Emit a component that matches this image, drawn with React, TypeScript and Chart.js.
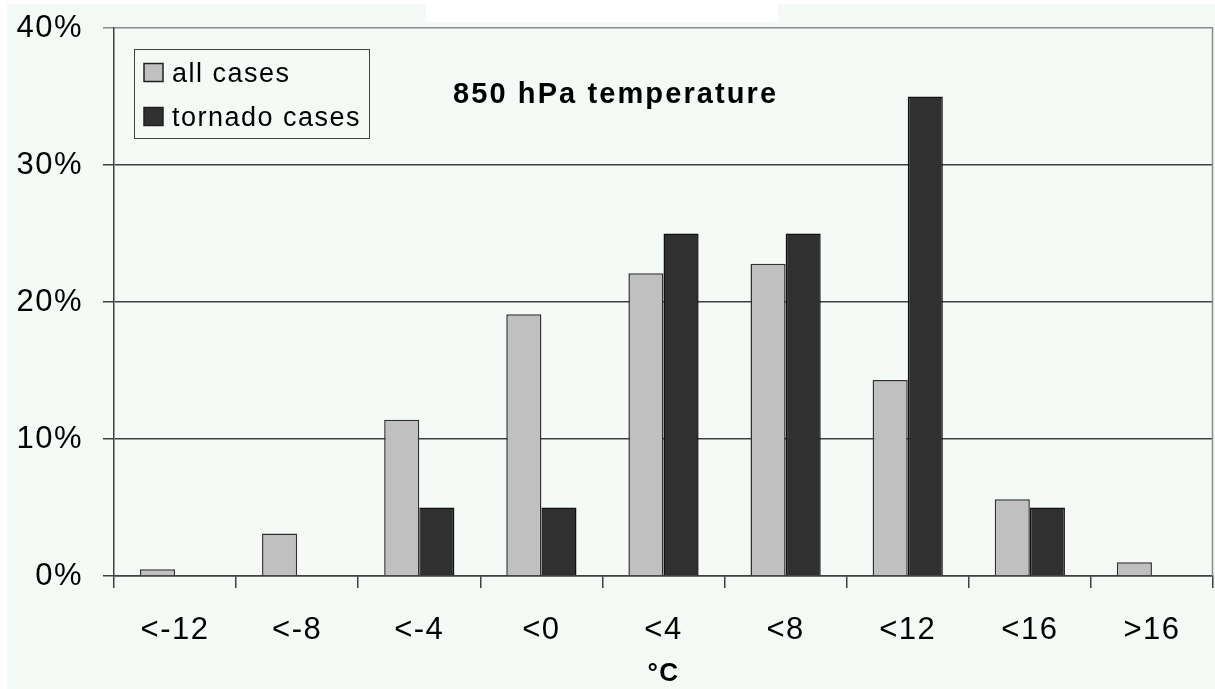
import React, { useEffect, useRef } from "react";
import { Chart, registerables } from "chart.js";

Chart.register(...registerables);

const categories = ["<-12", "<-8", "<-4", "<0", "<4", "<8", "<12", "<16", ">16"];
const allCases = [0.5, 3.1, 11.4, 19.1, 22.1, 22.8, 14.3, 5.6, 1.0];
const tornadoCases = [0, 0, 5, 5, 25, 25, 35, 5, 0];
const yTickValues = [0, 10, 20, 30, 40];
const seriesLabels = ["all cases", "tornado cases"];
const chartTitle = "850 hPa temperature";
const xAxisTitle = "°C";

const FONT = '"Liberation Sans", Arial, Helvetica, sans-serif';
const BG = "#f5faf6";
const GRAY = "#c0c0c0";
const DARK = "#303030";
const LINE = "#404040";

const decorPlugin = {
  id: "decor",
  beforeDraw(chart: any) {
    const ctx = chart.ctx;
    ctx.save();
    ctx.fillStyle = "#ffffff";
    ctx.fillRect(0, 0, chart.width, chart.height);
    ctx.fillStyle = BG;
    ctx.fillRect(7, 4, chart.width - 7, chart.height - 4);
    ctx.fillStyle = "#ffffff";
    ctx.fillRect(426, 0, 352, 22);
    ctx.restore();
    ctx.letterSpacing = "1.5px";
  },
  afterDraw(chart: any) {
    const ctx = chart.ctx;
    const a = chart.chartArea;
    ctx.save();
    // right border of plot area
    ctx.strokeStyle = "#8c8c8c";
    ctx.lineWidth = 1.5;
    ctx.beginPath();
    ctx.moveTo(a.right - 0.5, a.top);
    ctx.lineTo(a.right - 0.5, a.bottom);
    ctx.stroke();

    // title inside plot
    ctx.fillStyle = "#000";
    ctx.font = `bold 29px ${FONT}`;
    ctx.letterSpacing = "2.1px";
    ctx.textAlign = "left";
    ctx.textBaseline = "alphabetic";
    ctx.fillText(chartTitle, a.left + 339, a.top + 75);

    // legend
    const lx = a.left + 20.5;
    const ly = a.top + 21.5;
    ctx.fillStyle = BG;
    ctx.fillRect(lx, ly, 235, 89);
    ctx.strokeStyle = LINE;
    ctx.lineWidth = 1;
    ctx.strokeRect(lx, ly, 235, 89);
    const ds = chart.data.datasets;
    ctx.font = `27px ${FONT}`;
    ctx.letterSpacing = "1.5px";
    ds.forEach((d: any, i: number) => {
      const sy = ly + 14 + i * 44;
      ctx.fillStyle = d.backgroundColor;
      ctx.fillRect(lx + 9.5, sy, 19, 18);
      ctx.strokeStyle = "#202020";
      ctx.lineWidth = 1.5;
      ctx.strokeRect(lx + 9.5, sy, 19, 18);
      ctx.fillStyle = "#000";
      ctx.fillText(d.label, lx + 37.5, sy + 18.5);
    });
    ctx.restore();
  },
};

export default function App() {
  const ref = useRef<HTMLCanvasElement | null>(null);

  useEffect(() => {
    const canvas = ref.current;
    if (!canvas) return;
    const chart = new Chart(canvas, {
      type: "bar",
      data: {
        labels: categories,
        datasets: [
          {
            label: seriesLabels[0],
            data: allCases,
            backgroundColor: GRAY,
            borderColor: "#303030",
            borderWidth: 1.5,
            categoryPercentage: 0.575,
            barPercentage: 1.0,
          },
          {
            label: seriesLabels[1],
            data: tornadoCases,
            backgroundColor: DARK,
            borderColor: "#101010",
            borderWidth: 1.5,
            categoryPercentage: 0.575,
            barPercentage: 1.0,
          },
        ],
      },
      options: {
        responsive: false,
        animation: false,
        devicePixelRatio: 1,
        layout: { padding: { top: 28, right: 2, left: 0, bottom: 0 } },
        plugins: {
          legend: { display: false },
          title: { display: false },
          tooltip: { enabled: false },
        },
        scales: {
          x: {
            grid: {
              offset: true,
              drawOnChartArea: false,
              drawTicks: true,
              tickLength: 12,
              color: LINE,
              lineWidth: 1.5,
            },
            border: { display: true, color: LINE, width: 1.5 },
            ticks: {
              font: { family: FONT, size: 31 },
              color: "#000",
              padding: 24,
              maxRotation: 0,
              autoSkip: false,
            },
            title: {
              display: true,
              text: xAxisTitle,
              font: { family: FONT, size: 26, weight: "bold" },
              color: "#000",
              padding: { top: 0, bottom: 0 },
            },
            afterFit: (s: any) => {
              s.height = 113;
            },
          },
          y: {
            min: 0,
            max: 40,
            afterBuildTicks: (s: any) => {
              s.ticks = yTickValues.map((v) => ({ value: v }));
            },
            ticks: {
              font: { family: FONT, size: 31, lineHeight: 0.5 },
              color: "#000",
              padding: 20,
              callback: (v: any) => `${v}%`,
            },
            grid: {
              color: (c: any) => (c.tick && c.tick.value === 40 ? "#8c8c8c" : LINE),
              lineWidth: 1.5,
              tickLength: 11,
              drawTicks: true,
            },
            border: { display: true, color: LINE, width: 1.5 },
            afterFit: (s: any) => {
              s.width = 114;
            },
          },
        },
      },
      plugins: [decorPlugin],
    });
    return () => chart.destroy();
  }, []);

  return (
    <div style={{ position: "absolute", left: 0, top: 0, width: 1215, height: 689 }}>
      <canvas ref={ref} width={1215} height={689} style={{ display: "block" }} />
    </div>
  );
}
